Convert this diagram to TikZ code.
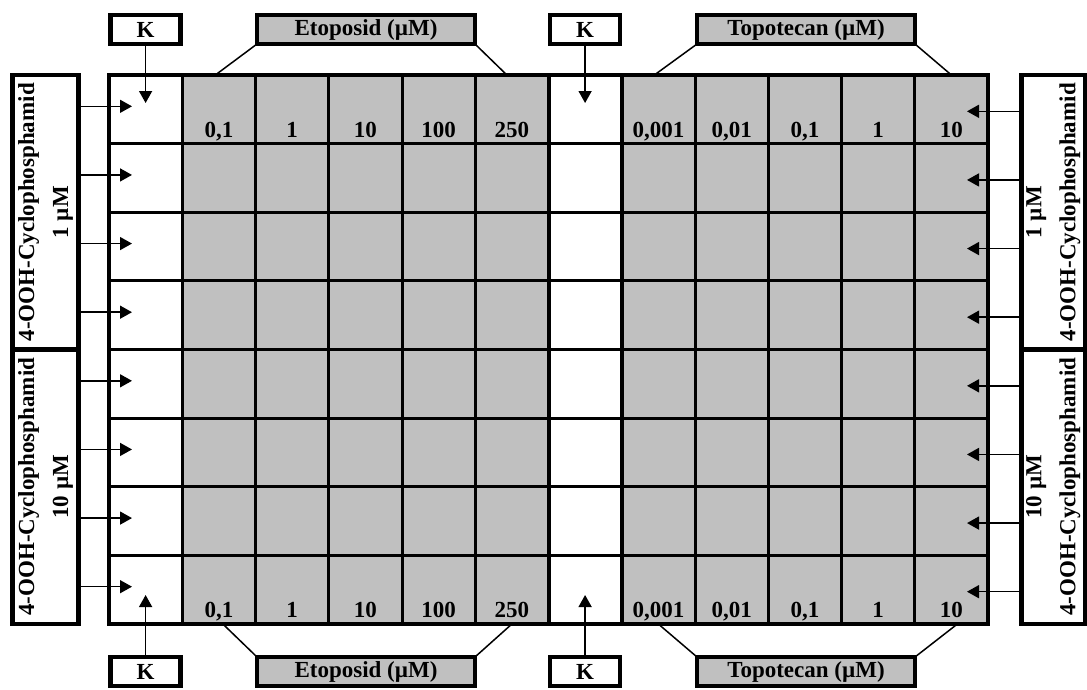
\documentclass[tikz,border=0pt]{standalone}
\usepackage{fontspec}
\setmainfont{Liberation Serif}
\usetikzlibrary{arrows.meta}
\definecolor{wellgray}{RGB}{192,192,192}
\tikzset{
  well/.style={draw, line width=3pt, minimum width=73.25pt, minimum height=68.625pt, inner sep=0pt, outer sep=0pt},
  lblbox/.style={draw, line width=4.5pt, inner sep=0pt, outer sep=0pt, minimum height=29pt},
  sidebox/.style={draw, line width=4.5pt, inner sep=0pt, outer sep=0pt, minimum height=274.5pt},
  sidetxt/.style={rotate=90, align=center, inner sep=0pt},
  arr/.style={line width=1.5pt, -{Triangle[length=12pt,width=13pt]}},
  conn/.style={line width=1.5pt},
  val/.style={anchor=base, inner sep=0pt},
}
\begin{document}
\begin{tikzpicture}[x=1pt,y=-1pt,font=\fontsize{23}{34}\selectfont\bfseries]
\useasboundingbox (0,0) rectangle (1087,689);
% wells
\foreach \r in {1,...,8}{
  \foreach \c in {1,...,12}{
    \pgfmathsetmacro\cx{109+(\c-0.5)*73.25}
    \pgfmathsetmacro\cy{75+(\r-0.5)*68.625}
    \ifnum\c=1 \def\fc{white}\else\ifnum\c=7 \def\fc{white}\else\def\fc{wellgray}\fi\fi
    \node[well, fill=\fc] (w\r-\c) at (\cx,\cy) {};
  }
}
% heavier lines
\draw[line width=3.5pt] (w1-1.north east) -- (w8-1.south east);
\draw[line width=4pt] (w1-6.north east) -- (w8-6.south east);
\draw[line width=3.5pt] (w1-7.north east) -- (w8-7.south east);
\draw[line width=4.5pt] (w1-1.north west) rectangle (w8-12.south east);
% values
\foreach \c/\t in {2/{0,1},3/1,4/10,5/100,6/250,8/{0,001},9/{0,01},10/{0,1},11/1,12/10}{
  \node[val] (tv\c) at ([yshift=6.5pt]w1-\c.south) {\t};
  \node[val] (bv\c) at ([yshift=7pt]w8-\c.south) {\t};
}
% top label boxes
\node[lblbox, minimum width=70pt] (kt1) at (145.6,29.5) {K};
\node[lblbox, fill=wellgray, minimum width=218pt] (et) at (366,29.5) {Etoposid (µM)};
\node[lblbox, minimum width=70pt] (kt2) at (585.1,29.5) {K};
\node[lblbox, fill=wellgray, minimum width=218pt] (tt) at (806,29.5) {Topotecan (µM)};
% bottom label boxes
\node[lblbox, minimum width=70pt] (kb1) at (145.6,671.5) {K};
\node[lblbox, fill=wellgray, minimum width=218pt] (eb) at (366,671.5) {Etoposid (µM)};
\node[lblbox, minimum width=70pt] (kb2) at (585.1,671.5) {K};
\node[lblbox, fill=wellgray, minimum width=218pt] (tb) at (806,671.5) {Topotecan (µM)};
% connectors to plate
\draw[conn] (et.south west) -- ([xshift=-3.5pt]w1-2.north);
\draw[conn] (et.south east) -- ([xshift=-5pt]w1-6.north);
\draw[conn] (tt.south west) -- ([xshift=-4pt]w1-8.north);
\draw[conn] (tt.south east) -- (w1-12.north);
\draw[conn] (eb.north west) -- ([xshift=4pt]w8-2.south);
\draw[conn] (eb.north east) -- (w8-6.south);
\draw[conn] (tb.north west) -- (w8-8.south);
\draw[conn] (tb.north east) -- ([xshift=6pt]w8-12.south);
% K arrows
\coordinate (ka1) at (145.6,103);
\coordinate (ka2) at (585.1,103);
\coordinate (kc1) at (145.6,595);
\coordinate (kc2) at (585.1,595);
\draw[arr] (kt1.south) -- (ka1);
\draw[arr] (kt2.south) -- (ka2);
\draw[arr] (kb1.north) -- (kc1);
\draw[arr] (kb2.north) -- (kc2);
% side boxes
\node[sidebox, minimum width=66pt] (L1) at (45.5,212.25) {};
\node[sidebox, minimum width=66pt] (L2) at (45.5,486.75) {};
\node[sidebox, minimum width=63.5pt] (R1) at (1053.25,212.25) {};
\node[sidebox, minimum width=63.5pt] (R2) at (1053.25,486.75) {};
\node[sidetxt] (L1t) at (L1.center) {4-OOH-Cyclophosphamid\\1 µM};
\node[sidetxt] (L2t) at (L2.center) {4-OOH-Cyclophosphamid\\10 µM};
\node[sidetxt] (R1t) at (R1.center) {1 µM\\4-OOH-Cyclophosphamid};
\node[sidetxt] (R2t) at (R2.center) {10 µM\\4-OOH-Cyclophosphamid};
% side arrows
\foreach \r in {1,...,8}{
  \pgfmathsetmacro\ly{75+(\r-0.5)*68.625-3}
  \pgfmathsetmacro\ry{75+(\r-0.5)*68.625+2}
  \coordinate (la\r) at (132,\ly);
  \coordinate (ra\r) at (967,\ry);
}
\foreach \r in {1,...,4}{
  \draw[arr] (L1.east |- la\r) -- (la\r);
  \draw[arr] (R1.west |- ra\r) -- (ra\r);
}
\foreach \r in {5,...,8}{
  \draw[arr] (L2.east |- la\r) -- (la\r);
  \draw[arr] (R2.west |- ra\r) -- (ra\r);
}
\end{tikzpicture}
\end{document}
